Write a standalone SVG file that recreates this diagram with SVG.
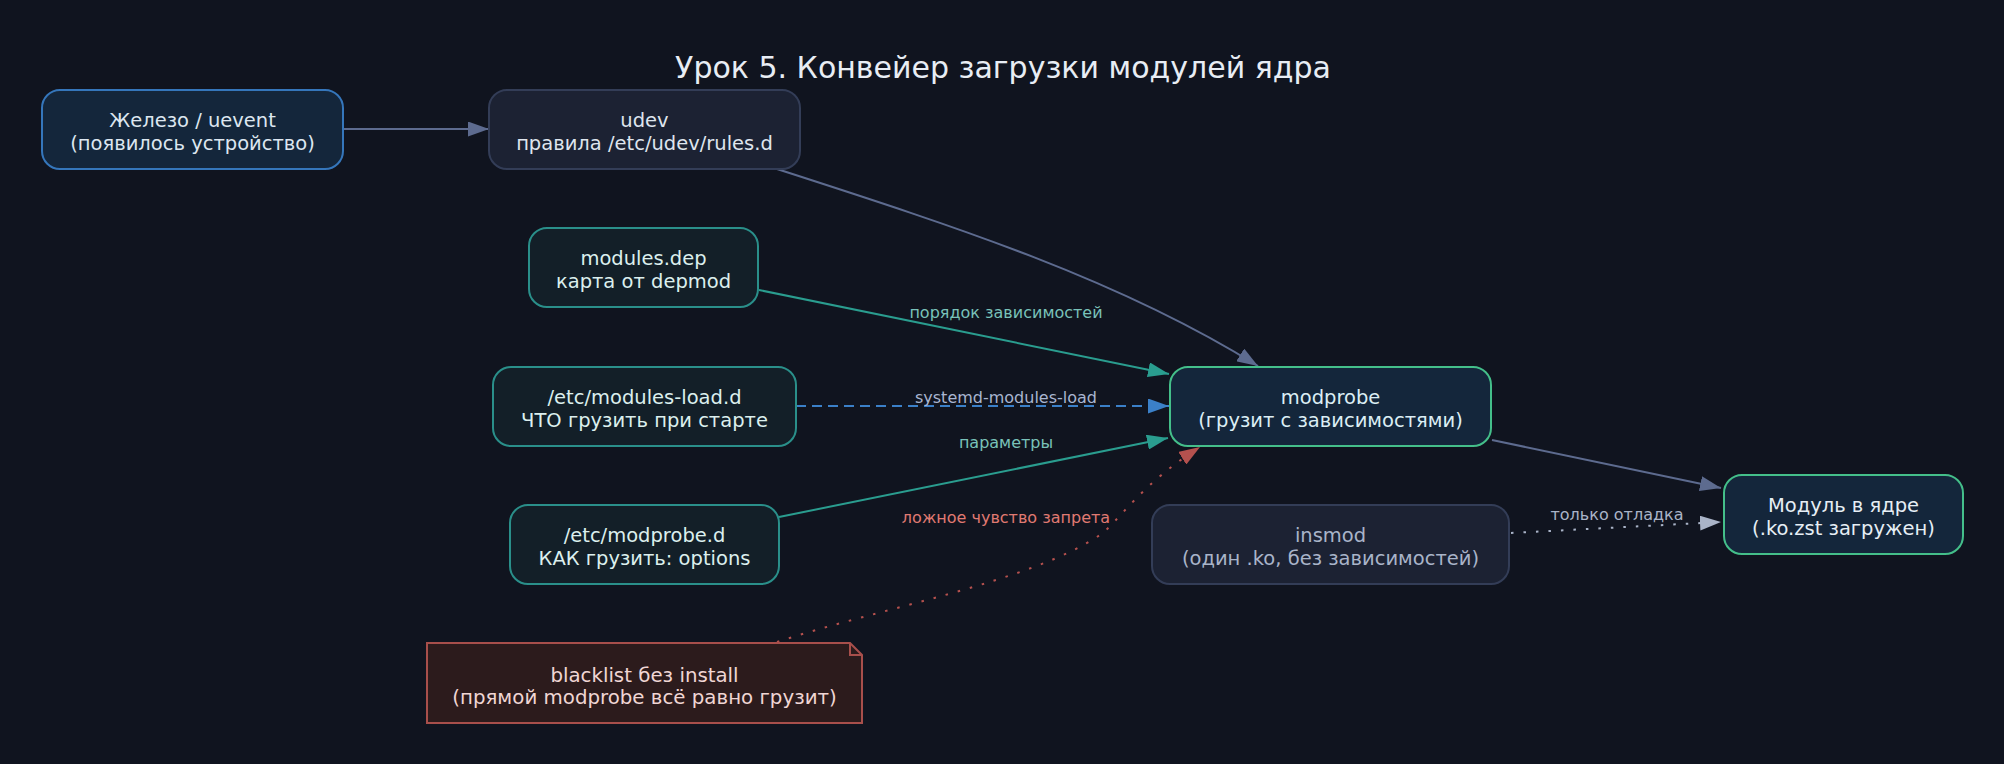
<svg xmlns="http://www.w3.org/2000/svg" width="2004" height="764" viewBox="0 0 2004 764">
<style>
  text { font-family: "DejaVu Sans", "Liberation Sans", sans-serif; text-anchor: middle; }
  .title { font-size: 30px; fill: #e8edf4; }
  .nt { font-size: 19.5px; }
  .lbl { font-size: 16px; }
  .e { fill: none; stroke-width: 2; }
  .blue-node { fill: #14263b; stroke: #3576bb; stroke-width: 2; }
  .gray-node { fill: #1c2233; stroke: #333d57; stroke-width: 2; }
  .teal-node { fill: #131f28; stroke: #2a8f8a; stroke-width: 2; }
  .green-node { fill: #14263b; stroke: #44bf8a; stroke-width: 2; }
  .note { fill: #2c1b1c; stroke: #a84f4b; stroke-width: 2; }
</style>
<defs>
  <marker id="ah-slate" markerUnits="userSpaceOnUse" markerWidth="21" markerHeight="15" viewBox="0 0 21 15" refX="21" refY="7.5" orient="auto"><path d="M0,0 L21,7.5 L0,15 z" fill="#5d6b8f"/></marker>
  <marker id="ah-teal" markerUnits="userSpaceOnUse" markerWidth="21" markerHeight="15" viewBox="0 0 21 15" refX="21" refY="7.5" orient="auto"><path d="M0,0 L21,7.5 L0,15 z" fill="#2a9d8f"/></marker>
  <marker id="ah-blue" markerUnits="userSpaceOnUse" markerWidth="21" markerHeight="15" viewBox="0 0 21 15" refX="21" refY="7.5" orient="auto"><path d="M0,0 L21,7.5 L0,15 z" fill="#3b80c8"/></marker>
  <marker id="ah-red" markerUnits="userSpaceOnUse" markerWidth="21" markerHeight="15" viewBox="0 0 21 15" refX="21" refY="7.5" orient="auto"><path d="M0,0 L21,7.5 L0,15 z" fill="#b5514e"/></marker>
  <marker id="ah-gray" markerUnits="userSpaceOnUse" markerWidth="21" markerHeight="15" viewBox="0 0 21 15" refX="21" refY="7.5" orient="auto"><path d="M0,0 L21,7.5 L0,15 z" fill="#aab4c8"/></marker>
</defs>
<rect width="2004" height="764" fill="#10141f"/>
<text class="title" x="1003" y="78">Урок 5. Конвейер загрузки модулей ядра</text>

<g id="connectors">
  <path class="e" d="M343,129 L489,129" stroke="#5d6b8f" marker-end="url(#ah-slate)"/>
  <path class="e" d="M777,169 C960,228 1120,280 1258,366" stroke="#5d6b8f" marker-end="url(#ah-slate)"/>
  <path class="e" d="M759,290 L1169,374" stroke="#2a9d8f" marker-end="url(#ah-teal)"/>
  <path class="e" d="M796,406 L1169,406" stroke="#3b80c8" stroke-dasharray="10,6" marker-end="url(#ah-blue)"/>
  <path class="e" d="M779,517 L1168,438" stroke="#2a9d8f" marker-end="url(#ah-teal)"/>
  <path class="e" d="M777,642 C880,608 1030,582 1100,535 C1120,520 1140,485 1200,447" stroke="#b5514e" stroke-dasharray="2.5,10" marker-end="url(#ah-red)"/>
  <path class="e" d="M1492,440 L1721,488" stroke="#5d6b8f" marker-end="url(#ah-slate)"/>
  <path class="e" d="M1511,533 L1721,522" stroke="#aab4c8" stroke-dasharray="2.5,10" marker-end="url(#ah-gray)"/>
  <text class="lbl" x="1006" y="318" fill="#79c2b9">порядок зависимостей</text>
  <text class="lbl" x="1006" y="403" fill="#a9b6d1">systemd-modules-load</text>
  <text class="lbl" x="1006" y="448" fill="#79c2b9">параметры</text>
  <text class="lbl" x="1006" y="523" fill="#e07a72">ложное чувство запрета</text>
  <text class="lbl" x="1617" y="520" fill="#aab4c8">только отладка</text>
</g>

<g id="node-hw">
  <rect class="blue-node" x="42" y="90" width="301" height="79" rx="18"/>
  <text class="nt" x="192.5" y="127" fill="#dde6f0">Железо / uevent</text>
  <text class="nt" x="192.5" y="150" fill="#dde6f0">(появилось устройство)</text>
</g>
<g id="node-udev">
  <rect class="gray-node" x="489" y="90" width="311" height="79" rx="18"/>
  <text class="nt" x="644.5" y="127" fill="#dfe5ee">udev</text>
  <text class="nt" x="644.5" y="150" fill="#dfe5ee">правила /etc/udev/rules.d</text>
</g>
<g id="node-depmod">
  <rect class="teal-node" x="529" y="228" width="229" height="79" rx="18"/>
  <text class="nt" x="643.5" y="265" fill="#dcefee">modules.dep</text>
  <text class="nt" x="643.5" y="288" fill="#dcefee">карта от depmod</text>
</g>
<g id="node-modules-load">
  <rect class="teal-node" x="493" y="367" width="303" height="79" rx="18"/>
  <text class="nt" x="644.5" y="404" fill="#dcefee">/etc/modules-load.d</text>
  <text class="nt" x="644.5" y="427" fill="#dcefee">ЧТО грузить при старте</text>
</g>
<g id="node-modprobe-d">
  <rect class="teal-node" x="510" y="505" width="269" height="79" rx="18"/>
  <text class="nt" x="644.5" y="542" fill="#dcefee">/etc/modprobe.d</text>
  <text class="nt" x="644.5" y="565" fill="#dcefee">КАК грузить: options</text>
</g>
<g id="node-blacklist">
  <path class="note" d="M427,643 L850,643 L862,655 L862,723 L427,723 Z"/>
  <path d="M850,643 L850,655 L862,655" fill="none" stroke="#a84f4b" stroke-width="2"/>
  <text class="nt" x="644.5" y="682" fill="#f0d6d4" style="font-size:19.8px">blacklist без install</text>
  <text class="nt" x="644.5" y="704" fill="#f0d6d4" style="font-size:19.8px">(прямой modprobe всё равно грузит)</text>
</g>
<g id="node-modprobe">
  <rect class="green-node" x="1170" y="367" width="321" height="79" rx="18"/>
  <text class="nt" x="1330.5" y="404" fill="#dceef5">modprobe</text>
  <text class="nt" x="1330.5" y="427" fill="#dceef5">(грузит с зависимостями)</text>
</g>
<g id="node-insmod">
  <rect class="gray-node" x="1152" y="505" width="357" height="79" rx="18"/>
  <text class="nt" x="1330.5" y="542" fill="#a9b4c9">insmod</text>
  <text class="nt" x="1330.5" y="565" fill="#a9b4c9">(один .ko, без зависимостей)</text>
</g>
<g id="node-kernel">
  <rect class="green-node" x="1724" y="475" width="239" height="79" rx="18"/>
  <text class="nt" x="1843.5" y="512" fill="#e6eef5">Модуль в ядре</text>
  <text class="nt" x="1843.5" y="535" fill="#e6eef5">(.ko.zst загружен)</text>
</g>
</svg>
